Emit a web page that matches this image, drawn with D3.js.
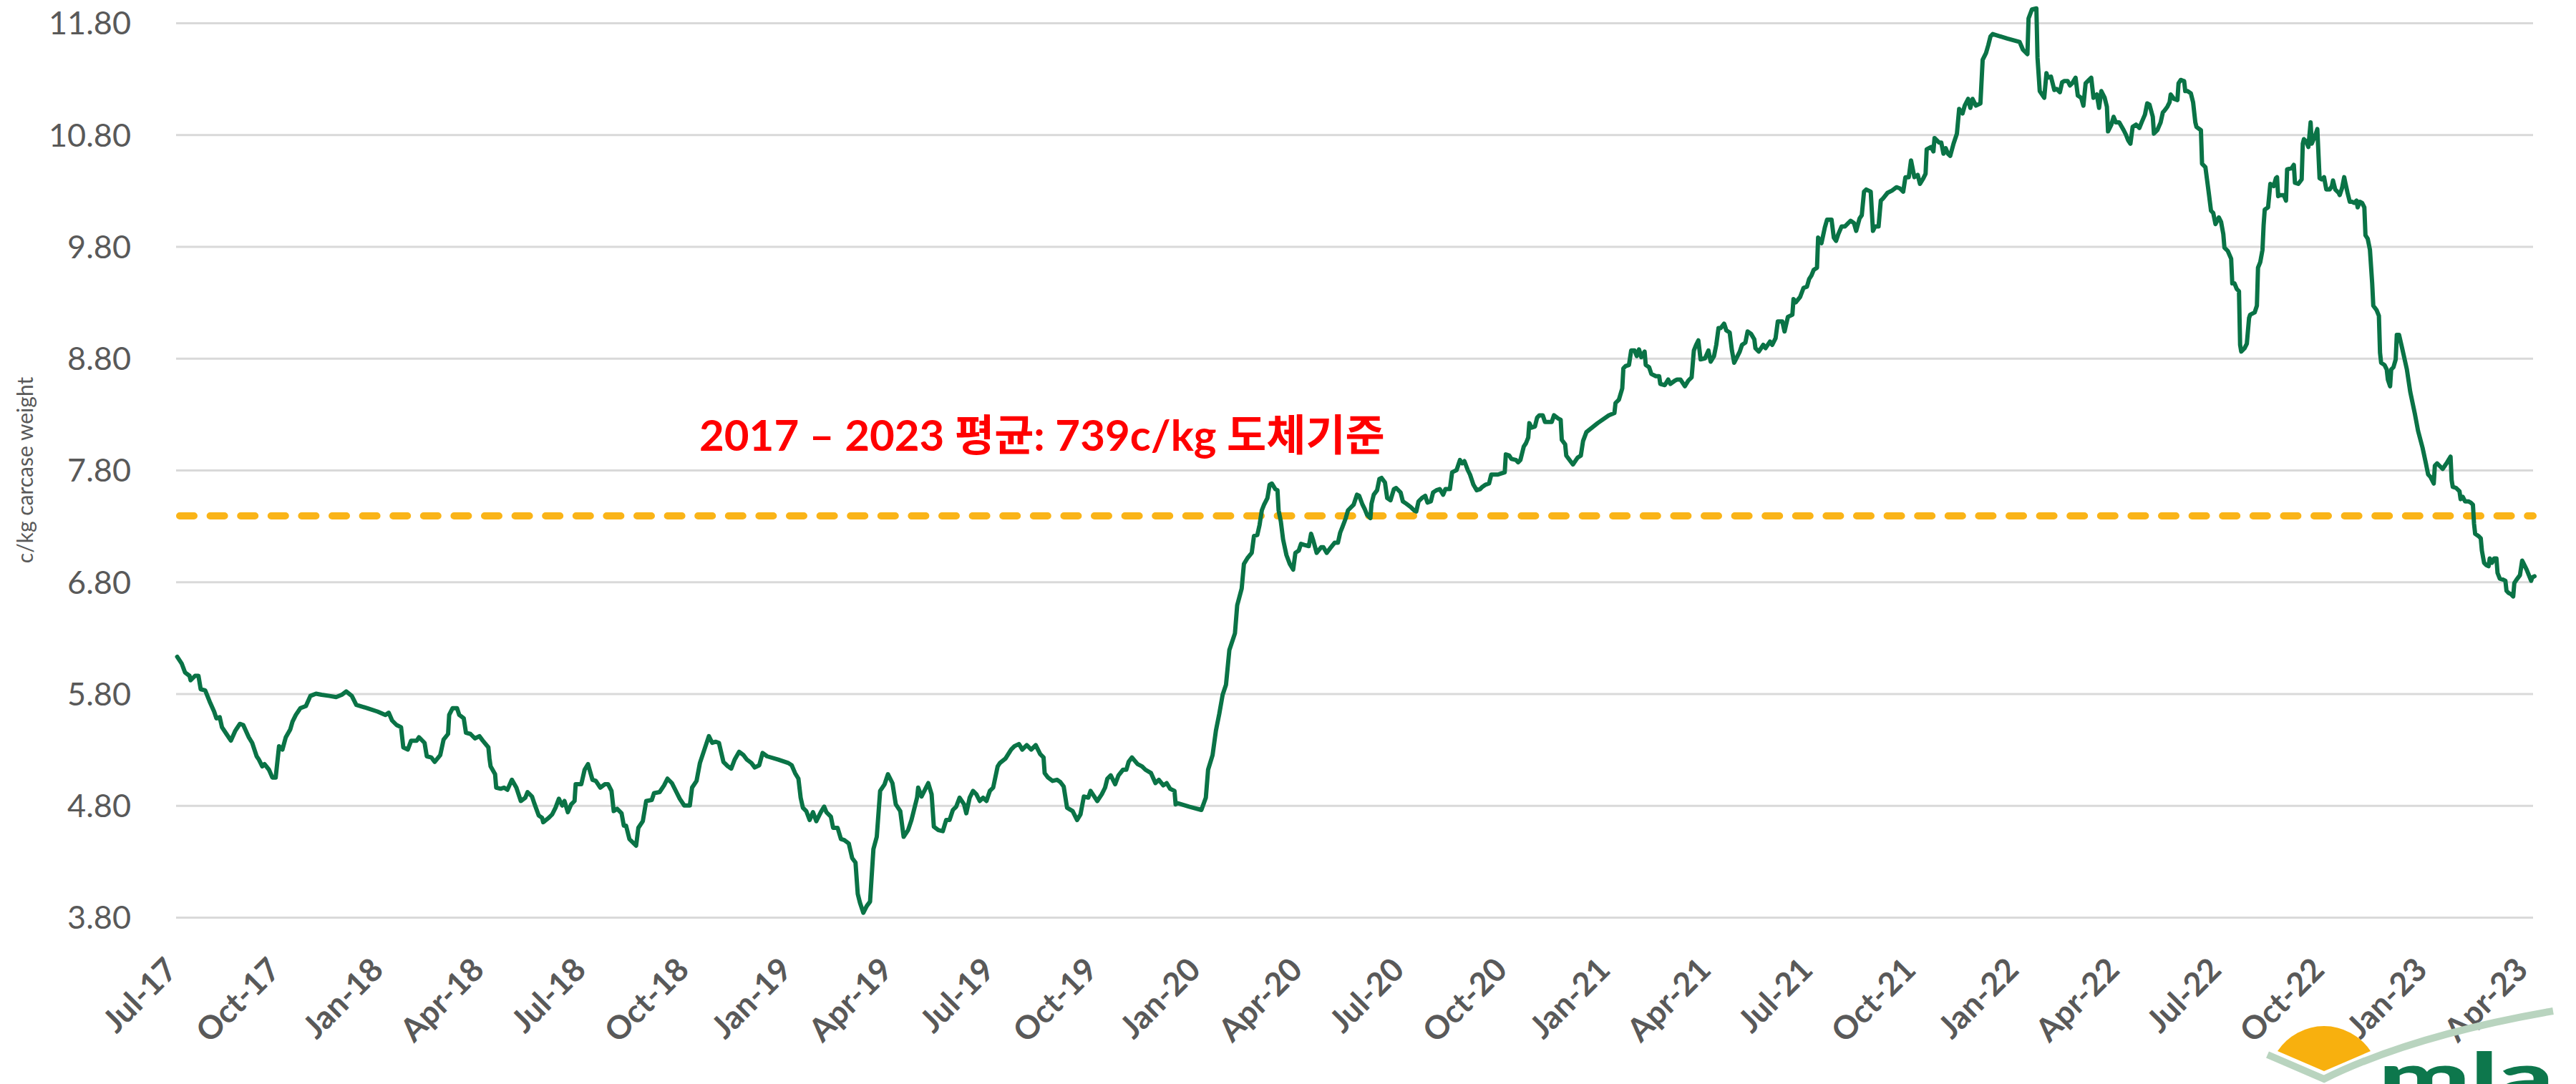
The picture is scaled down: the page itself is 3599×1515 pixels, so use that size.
<!DOCTYPE html>
<html>
<head>
<meta charset="utf-8">
<script src="https://cdn.jsdelivr.net/npm/d3@7"></script>
<style>
html,body{margin:0;padding:0;background:#ffffff;overflow:hidden}
svg{display:block}
</style>
</head>
<body>
<svg id="chart" width="3599" height="1515"></svg>
<script>
// ---------------- DATA ----------------
const startDate = "2017-07-01";           // day 0 of the series
const lastDay = 2107;                       // last day of the series (days after startDate)
// [days after startDate, c/kg carcase weight (shown in $ units)]
const priceSeries = [
[1,6.13],[5,6.07],[8,5.99],[12,5.96],[13,5.92],[17,5.96],[20,5.96],[22,5.84],[26,5.83],[30,5.73],
[34,5.64],[36,5.58],[39,5.59],[41,5.50],[45,5.44],[49,5.38],[53,5.47],[57,5.53],[60,5.52],[65,5.41],
[68,5.36],[72,5.24],[74,5.21],[77,5.15],[79,5.17],[83,5.12],[86,5.05],[89,5.05],[92,5.33],[95,5.30],
[98,5.41],[102,5.48],[104,5.55],[107,5.61],[111,5.67],[116,5.69],[120,5.78],[125,5.80],[130,5.79],[137,5.78],
[143,5.77],[148,5.79],[152,5.82],[157,5.78],[161,5.70],[171,5.67],[180,5.64],[187,5.61],[190,5.63],[193,5.56],
[197,5.52],[201,5.50],[203,5.32],[207,5.30],[210,5.38],[215,5.38],[217,5.41],[222,5.36],[224,5.24],[228,5.23],
[231,5.19],[236,5.25],[239,5.39],[243,5.44],[244,5.61],[247,5.67],[251,5.67],[253,5.61],[257,5.58],[259,5.45],
[263,5.44],[267,5.40],[271,5.42],[274,5.38],[279,5.32],[280,5.22],[281,5.15],[285,5.08],[286,4.96],[290,4.95],
[293,4.96],[296,4.94],[300,5.03],[304,4.96],[308,4.84],[312,4.87],[314,4.92],[318,4.88],[320,4.82],[324,4.71],
[327,4.69],[328,4.65],[333,4.69],[336,4.72],[339,4.78],[342,4.86],[345,4.80],[347,4.84],[350,4.74],[353,4.81],
[356,4.84],[357,4.99],[362,4.99],[365,5.12],[368,5.17],[372,5.03],[375,5.02],[379,4.96],[383,4.99],[386,4.99],
[389,4.93],[391,4.75],[394,4.77],[398,4.73],[400,4.62],[402,4.62],[405,4.50],[411,4.44],[413,4.60],[417,4.66],
[420,4.84],[425,4.85],[427,4.91],[432,4.92],[436,4.98],[439,5.04],[443,5.00],[447,4.92],[450,4.86],[454,4.80],
[459,4.80],[461,4.96],[465,5.02],[468,5.18],[472,5.30],[476,5.42],[479,5.36],[482,5.37],[485,5.36],[489,5.19],
[493,5.15],[496,5.13],[499,5.21],[503,5.28],[507,5.25],[510,5.21],[514,5.18],[517,5.14],[521,5.16],[524,5.27],
[528,5.24],[538,5.21],[547,5.18],[550,5.16],[553,5.09],[556,5.04],[558,4.87],[560,4.78],[563,4.75],[566,4.67],
[569,4.74],[572,4.66],[576,4.74],[579,4.79],[581,4.74],[585,4.70],[587,4.60],[591,4.60],[594,4.50],[597,4.49],
[601,4.46],[604,4.33],[607,4.29],[609,4.01],[611,3.93],[614,3.84],[617,3.90],[620,3.94],[623,4.41],[626,4.52],
[629,4.93],[633,4.99],[636,5.08],[640,5.00],[643,4.81],[647,4.75],[650,4.52],[654,4.58],[657,4.67],[662,4.87],
[663,4.96],[666,4.88],[669,4.94],[672,5.00],[675,4.90],[677,4.61],[681,4.58],[685,4.57],[688,4.67],[691,4.67],
[694,4.76],[697,4.79],[700,4.87],[704,4.81],[706,4.73],[709,4.87],[712,4.93],[715,4.90],[718,4.84],[721,4.87],
[724,4.84],[727,4.93],[730,4.96],[734,5.15],[736,5.18],[741,5.22],[746,5.30],[749,5.33],[753,5.35],[756,5.30],
[760,5.34],[764,5.30],[768,5.34],[772,5.26],[775,5.23],[776,5.09],[779,5.05],[783,5.02],[787,5.03],[790,5.01],
[793,4.97],[796,4.78],[801,4.75],[805,4.67],[808,4.72],[811,4.88],[815,4.87],[817,4.93],[821,4.87],[823,4.84],
[827,4.90],[830,4.96],[832,5.04],[835,5.07],[839,4.99],[842,5.07],[846,5.12],[849,5.12],[851,5.19],[854,5.23],
[859,5.17],[863,5.15],[866,5.12],[871,5.09],[875,5.00],[878,5.03],[882,4.98],[885,5.00],[888,4.95],[892,4.93],
[893,4.81],[895,4.82],[905,4.79],[916,4.76],[920,4.87],[922,5.12],[926,5.25],[929,5.47],[932,5.62],[935,5.79],
[938,5.88],[941,6.19],[946,6.34],[948,6.59],[952,6.74],[954,6.96],[957,7.01],[961,7.06],[963,7.21],[966,7.22],
[968,7.31],[970,7.44],[972,7.49],[975,7.55],[977,7.67],[979,7.68],[982,7.63],[984,7.62],[985,7.44],[987,7.34],
[989,7.18],[992,7.04],[995,6.96],[998,6.91],[1000,7.06],[1003,7.08],[1005,7.14],[1008,7.13],[1012,7.12],[1014,7.23],
[1016,7.17],[1019,7.06],[1023,7.11],[1025,7.11],[1028,7.06],[1031,7.10],[1035,7.15],[1038,7.15],[1040,7.24],[1042,7.29],
[1045,7.37],[1047,7.44],[1052,7.49],[1055,7.58],[1057,7.57],[1060,7.49],[1062,7.45],[1064,7.40],[1067,7.37],[1068,7.50],
[1070,7.58],[1073,7.62],[1075,7.72],[1077,7.73],[1080,7.69],[1082,7.55],[1085,7.53],[1088,7.63],[1090,7.64],[1094,7.60],
[1096,7.52],[1099,7.50],[1103,7.47],[1106,7.44],[1108,7.43],[1110,7.52],[1113,7.55],[1116,7.57],[1118,7.51],[1121,7.52],
[1123,7.60],[1126,7.62],[1129,7.63],[1132,7.58],[1134,7.63],[1138,7.63],[1140,7.78],[1144,7.80],[1147,7.89],[1149,7.86],
[1151,7.88],[1154,7.80],[1156,7.76],[1159,7.67],[1162,7.62],[1165,7.63],[1167,7.65],[1170,7.67],[1173,7.68],[1175,7.76],
[1178,7.76],[1181,7.76],[1184,7.77],[1187,7.78],[1188,7.94],[1191,7.93],[1193,7.90],[1197,7.89],[1199,7.87],[1201,7.89],
[1204,8.01],[1206,8.04],[1208,8.09],[1209,8.22],[1211,8.18],[1214,8.19],[1216,8.27],[1218,8.29],[1221,8.29],[1223,8.23],
[1229,8.23],[1231,8.29],[1235,8.26],[1237,8.25],[1238,8.07],[1241,8.03],[1242,7.93],[1245,7.89],[1248,7.85],[1252,7.91],
[1255,7.93],[1257,8.06],[1260,8.14],[1270,8.22],[1280,8.29],[1285,8.31],[1286,8.40],[1289,8.43],[1292,8.53],[1293,8.71],
[1295,8.73],[1298,8.74],[1300,8.87],[1303,8.87],[1305,8.82],[1307,8.88],[1309,8.81],[1312,8.86],[1313,8.74],[1316,8.72],
[1318,8.66],[1322,8.64],[1325,8.64],[1326,8.57],[1330,8.56],[1333,8.61],[1335,8.57],[1339,8.60],[1341,8.61],[1344,8.61],
[1348,8.55],[1351,8.60],[1354,8.63],[1356,8.87],[1358,8.92],[1360,8.96],[1362,8.79],[1366,8.80],[1369,8.87],[1371,8.77],
[1374,8.82],[1376,8.92],[1378,9.07],[1380,9.07],[1383,9.11],[1385,9.05],[1388,9.03],[1390,8.87],[1392,8.76],[1395,8.82],
[1397,8.86],[1399,8.92],[1402,8.94],[1404,9.04],[1407,9.02],[1410,8.97],[1411,8.89],[1414,8.86],[1418,8.92],[1420,8.89],
[1424,8.95],[1426,8.92],[1429,8.98],[1431,9.13],[1435,9.13],[1437,9.04],[1440,9.17],[1444,9.19],[1445,9.33],[1447,9.30],
[1451,9.35],[1454,9.43],[1457,9.44],[1459,9.51],[1461,9.54],[1463,9.59],[1466,9.61],[1467,9.88],[1470,9.83],[1473,9.97],
[1475,10.04],[1479,10.04],[1481,9.88],[1483,9.85],[1485,9.91],[1488,9.98],[1491,9.98],[1494,10.01],[1496,10.03],[1499,10.01],
[1501,9.94],[1504,10.05],[1506,10.08],[1508,10.29],[1510,10.31],[1512,10.30],[1514,10.29],[1516,9.94],[1518,9.98],[1521,9.98],
[1523,10.21],[1525,10.23],[1529,10.28],[1533,10.30],[1537,10.33],[1540,10.32],[1543,10.29],[1545,10.42],[1548,10.42],[1550,10.57],
[1553,10.42],[1556,10.44],[1558,10.36],[1561,10.41],[1563,10.45],[1564,10.67],[1568,10.69],[1570,10.65],[1571,10.77],[1575,10.73],
[1577,10.73],[1579,10.63],[1581,10.68],[1583,10.63],[1585,10.61],[1588,10.72],[1591,10.81],[1593,11.03],[1596,10.99],[1598,11.06],
[1601,11.12],[1603,11.04],[1605,11.12],[1608,11.06],[1612,11.08],[1614,11.47],[1617,11.53],[1619,11.60],[1621,11.68],[1623,11.70],
[1636,11.66],[1647,11.63],[1650,11.56],[1654,11.52],[1655,11.84],[1658,11.92],[1662,11.93],[1663,11.49],[1665,11.19],[1669,11.13],
[1671,11.35],[1672,11.31],[1675,11.32],[1678,11.20],[1680,11.21],[1683,11.18],[1685,11.27],[1687,11.28],[1690,11.28],[1692,11.24],
[1694,11.26],[1697,11.31],[1699,11.15],[1702,11.13],[1704,11.06],[1706,11.26],[1709,11.29],[1711,11.31],[1713,11.13],[1716,11.16],
[1718,11.04],[1720,11.19],[1723,11.13],[1725,11.05],[1726,10.83],[1729,10.89],[1731,10.96],[1733,10.91],[1736,10.91],[1740,10.84],
[1742,10.80],[1744,10.75],[1746,10.72],[1748,10.87],[1751,10.89],[1754,10.86],[1756,10.91],[1759,10.98],[1761,11.08],[1763,11.07],
[1766,10.96],[1767,10.81],[1770,10.84],[1773,10.91],[1775,11.00],[1776,11.01],[1779,11.05],[1781,11.09],[1782,11.16],[1785,11.12],
[1788,11.11],[1789,11.26],[1791,11.29],[1794,11.28],[1795,11.19],[1797,11.19],[1800,11.17],[1802,11.09],[1804,10.91],[1805,10.87],
[1809,10.84],[1810,10.54],[1813,10.51],[1816,10.28],[1818,10.12],[1820,10.10],[1822,10.00],[1825,10.06],[1827,10.02],[1829,9.91],
[1830,9.79],[1833,9.76],[1836,9.69],[1837,9.47],[1839,9.47],[1841,9.42],[1843,9.40],[1844,8.92],[1845,8.86],[1848,8.89],
[1850,8.93],[1852,9.16],[1853,9.19],[1857,9.21],[1859,9.27],[1860,9.61],[1862,9.66],[1864,9.77],[1865,9.99],[1866,10.13],
[1869,10.15],[1871,10.36],[1874,10.34],[1876,10.41],[1877,10.42],[1878,10.25],[1880,10.26],[1883,10.26],[1885,10.21],[1886,10.49],
[1890,10.50],[1892,10.53],[1893,10.37],[1896,10.36],[1899,10.40],[1900,10.72],[1901,10.76],[1903,10.74],[1905,10.69],[1907,10.91],
[1908,10.72],[1911,10.79],[1913,10.85],[1915,10.41],[1917,10.40],[1919,10.42],[1921,10.31],[1924,10.31],[1926,10.34],[1927,10.39],
[1929,10.31],[1932,10.28],[1933,10.26],[1935,10.32],[1937,10.42],[1938,10.37],[1940,10.28],[1942,10.20],[1944,10.20],[1946,10.19],
[1948,10.21],[1949,10.15],[1951,10.20],[1953,10.19],[1955,10.15],[1956,9.90],[1958,9.87],[1960,9.77],[1962,9.47],[1963,9.27],
[1966,9.23],[1968,9.18],[1969,8.85],[1970,8.76],[1973,8.74],[1975,8.70],[1976,8.61],[1978,8.55],[1979,8.70],[1981,8.72],
[1983,8.79],[1984,9.01],[1986,9.01],[1989,8.88],[1993,8.70],[1996,8.50],[2000,8.31],[2003,8.15],[2007,8.00],[2010,7.86],
[2012,7.76],[2014,7.74],[2017,7.68],[2018,7.84],[2020,7.86],[2022,7.84],[2025,7.81],[2027,7.84],[2029,7.87],[2032,7.92],
[2033,7.71],[2034,7.65],[2037,7.64],[2040,7.61],[2041,7.54],[2043,7.56],[2045,7.52],[2048,7.52],[2050,7.51],[2052,7.49],
[2053,7.32],[2054,7.23],[2057,7.21],[2059,7.19],[2060,7.08],[2062,6.97],[2064,6.95],[2066,6.94],[2067,7.01],[2069,6.97],
[2071,7.01],[2073,7.01],[2074,6.88],[2076,6.83],[2079,6.82],[2081,6.81],[2082,6.72],[2084,6.70],[2086,6.69],[2088,6.67],
[2089,6.79],[2091,6.82],[2094,6.86],[2096,6.99],[2097,6.97],[2100,6.91],[2102,6.86],[2104,6.81],[2105,6.84],[2107,6.85]
];
const averagePrice = 7.39;
const averageLabel = "2017 – 2023 평균: 739c/kg 도체기준";
const yTickValues = [3.80, 4.80, 5.80, 6.80, 7.80, 8.80, 9.80, 10.80, 11.80];
const xTickDates = ["2017-07-01","2017-10-01","2018-01-01","2018-04-01","2018-07-01","2018-10-01",
  "2019-01-01","2019-04-01","2019-07-01","2019-10-01","2020-01-01","2020-04-01","2020-07-01","2020-10-01",
  "2021-01-01","2021-04-01","2021-07-01","2021-10-01","2022-01-01","2022-04-01","2022-07-01","2022-10-01",
  "2023-01-01","2023-04-01"];
const xTickLabels = ["Jul-17","Oct-17","Jan-18","Apr-18","Jul-18","Oct-18","Jan-19","Apr-19","Jul-19","Oct-19",
  "Jan-20","Apr-20","Jul-20","Oct-20","Jan-21","Apr-21","Jul-21","Oct-21","Jan-22","Apr-22","Jul-22","Oct-22",
  "Jan-23","Apr-23"];
const yAxisTitle = "c/kg carcase weight";
const logoText = "mla";

// ---------------- LAYOUT ----------------
const W = 3599, H = 1515;
const plot = {left: 246, right: 3541, gridRight: 3539, top: 32, bottom: 1282};
const latin = "Lato, 'Noto Sans', 'Noto Sans CJK KR', sans-serif";
const grey = "#595959";

const svg = d3.select("#chart");
svg.append("rect").attr("width", W).attr("height", H).attr("fill", "#ffffff");

const parse = d3.utcParse("%Y-%m-%d");
const t0 = parse(startDate);
const dayToDate = d => d3.utcDay.offset(t0, d);

const x = d3.scaleUtc().domain([t0, dayToDate(lastDay)]).range([plot.left, plot.right]);
const y = d3.scaleLinear().domain([3.8, 11.8]).range([plot.bottom, plot.top]);

// Y axis with gridlines
const yAxis = d3.axisLeft(y)
  .tickValues(yTickValues)
  .tickFormat(d3.format(".2f"))
  .tickSize(-(plot.gridRight - plot.left))
  .tickPadding(63);
const gy = svg.append("g").attr("transform", `translate(${plot.left},0)`).call(yAxis);
gy.select(".domain").remove();
gy.selectAll(".tick line").attr("stroke", "#d9d9d9").attr("stroke-width", 3);
gy.selectAll(".tick text")
  .attr("fill", grey)
  .attr("dy", "0.35em")
  .style("font-family", latin)
  .style("font-size", "45px");

// X axis (labels only)
const xAxis = d3.axisBottom(x)
  .tickValues(xTickDates.map(parse))
  .tickFormat((d, i) => xTickLabels[i])
  .tickSize(0);
const gx = svg.append("g").attr("transform", `translate(0,${plot.bottom})`).call(xAxis);
gx.select(".domain").remove();
gx.selectAll(".tick text")
  .attr("x", 0).attr("y", 0).attr("dy", 0)
  .attr("transform", "translate(4,76) rotate(-45)")
  .style("text-anchor", "end")
  .style("font-family", latin)
  .style("font-weight", "700")
  .style("font-size", "45px")
  .attr("fill", grey);

// Y axis title
svg.append("text")
  .attr("transform", `translate(46,${(plot.top + plot.bottom) / 2}) rotate(-90)`)
  .attr("text-anchor", "middle")
  .style("font-family", latin)
  .style("font-size", "30px")
  .attr("fill", grey)
  .text(yAxisTitle);

// Average dashed line
svg.append("line")
  .attr("x1", plot.left + 5).attr("x2", plot.gridRight)
  .attr("y1", y(averagePrice)).attr("y2", y(averagePrice))
  .attr("stroke", "#fab418")
  .attr("stroke-width", 10)
  .attr("stroke-linecap", "round")
  .attr("stroke-dasharray", "20 22.6");

// Price line
const line = d3.line()
  .x(d => x(dayToDate(d[0])))
  .y(d => y(d[1]));
svg.append("path")
  .datum(priceSeries)
  .attr("d", line)
  .attr("fill", "none")
  .attr("stroke", "#0a7346")
  .attr("stroke-width", 6)
  .attr("stroke-linejoin", "round")
  .attr("stroke-linecap", "round");

// Annotation
svg.append("text")
  .attr("x", 977).attr("y", 630)
  .style("font-family", "Lato, 'Noto Sans CJK KR', sans-serif")
  .style("font-weight", "700")
  .style("font-size", "60px")
  .attr("fill", "#ff0000")
  .text(averageLabel);

// Logo (bottom right)
const logo = svg.append("g");
logo.append("path")
  .attr("d", "M3182,1469 A78,78 0 0 1 3312,1469 L3247,1497 Z")
  .attr("fill", "#f8b00e");
logo.append("path")
  .attr("d", "M3168,1474 L3247,1508 Q3370,1447 3567,1413")
  .attr("fill", "none")
  .attr("stroke", "#b9d4bf")
  .attr("stroke-width", 10);
logo.append("text")
  .attr("x", 3323).attr("y", 1537)
  .attr("textLength", 245)
  .attr("lengthAdjust", "spacingAndGlyphs")
  .style("font-family", "Lato, sans-serif")
  .style("font-weight", "900")
  .style("font-size", "92px")
  .attr("fill", "#0d774c")
  .text(logoText);
</script>
</body>
</html>
